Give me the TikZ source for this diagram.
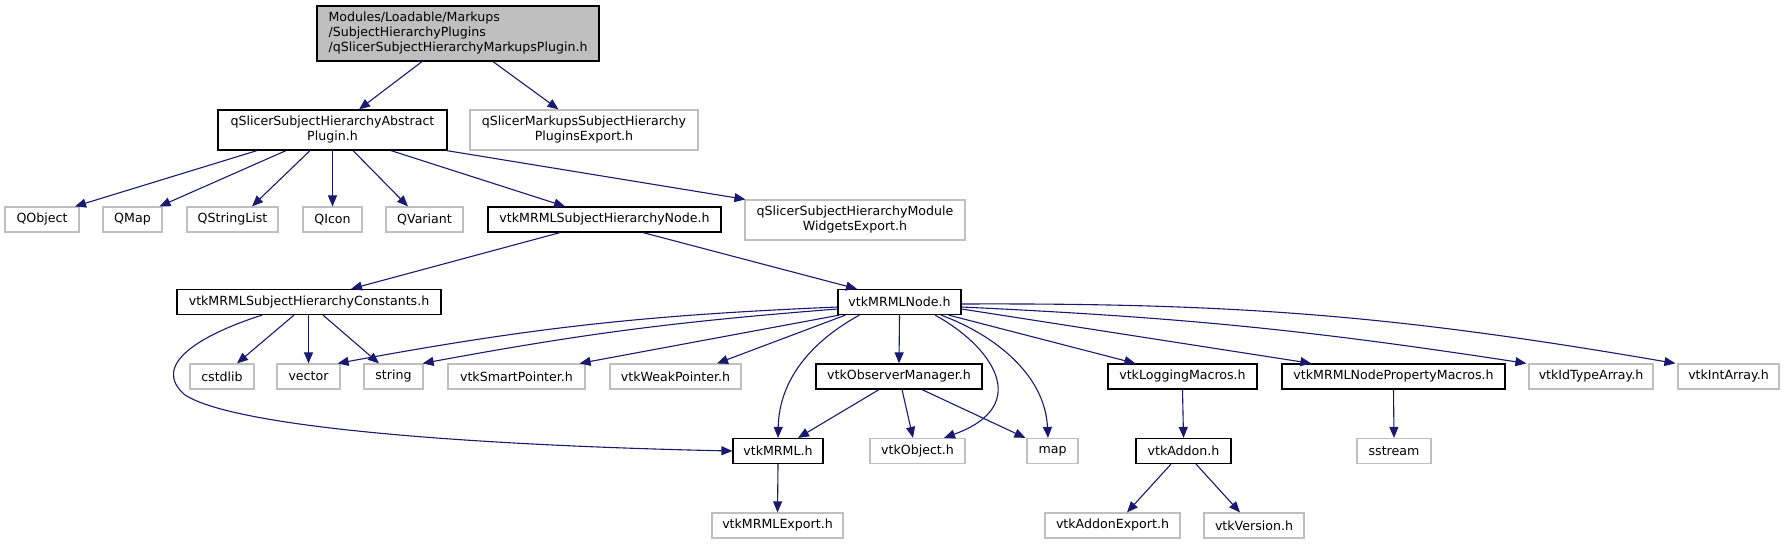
\documentclass[tikz,border=0pt]{standalone}
\usepackage{fontspec}
\setmainfont{DejaVu Sans}
\usetikzlibrary{arrows.meta}
\definecolor{edgec}{HTML}{191970}
\definecolor{greyb}{HTML}{BFBFBF}
\tikzset{
 box/.style={draw=black, line width=1.2pt, rectangle, inner sep=0pt, minimum height=25pt, font=\fontsize{12.6}{15}\selectfont, align=center, fill=white},
 gbox/.style={box, draw=greyb},
 edge/.style={draw=edgec, line width=1.1pt, -{Triangle[length=11pt,width=9pt]}},
}
\begin{document}
\begin{tikzpicture}[x=1pt,y=-1pt]
\useasboundingbox (0,0) rectangle (1785,544);
% row 1
\node[box, fill=greyb, minimum width=282, minimum height=55, align=left] (top) at (458,33.5) {Modules/Loadable/Markups\\/SubjectHierarchyPlugins\\/qSlicerSubjectHierarchyMarkupsPlugin.h};
% row 2
\node[box, minimum width=229, minimum height=40] (abs) at (332.5,130) {qSlicerSubjectHierarchyAbstract\\Plugin.h};
\node[gbox, minimum width=228, minimum height=40] (mexp) at (584,130) {qSlicerMarkupsSubjectHierarchy\\PluginsExport.h};
% row 3
\node[gbox, minimum width=74] (qobj) at (42,219.5) {QObject};
\node[gbox, minimum width=59] (qmap) at (132.5,219.5) {QMap};
\node[gbox, minimum width=91] (qsl) at (232.5,219.5) {QStringList};
\node[gbox, minimum width=59] (qicon) at (332.5,219.5) {QIcon};
\node[gbox, minimum width=77] (qvar) at (424.5,219.5) {QVariant};
\node[box, minimum width=233] (shn) at (604.5,219.5) {vtkMRMLSubjectHierarchyNode.h};
\node[gbox, minimum width=220, minimum height=40] (wexp) at (855,220) {qSlicerSubjectHierarchyModule\\WidgetsExport.h};
% row 4
\node[box, minimum width=264] (const) at (309,302) {vtkMRMLSubjectHierarchyConstants.h};
\node[box, minimum width=123] (mnode) at (899.5,302) {vtkMRMLNode.h};
% row 5
\node[gbox, minimum width=64] (cstd) at (222,376.5) {cstdlib};
\node[gbox, minimum width=63] (vec) at (308.5,376.5) {vector};
\node[gbox, minimum width=59] (str) at (393.5,376.5) {string};
\node[gbox, minimum width=137] (smart) at (516.5,376.5) {vtkSmartPointer.h};
\node[gbox, minimum width=131] (weak) at (675.5,376.5) {vtkWeakPointer.h};
\node[box, minimum width=166] (obsm) at (899,376.5) {vtkObserverManager.h};
\node[box, minimum width=149] (logm) at (1182.5,376.5) {vtkLoggingMacros.h};
\node[box, minimum width=223] (propm) at (1393.5,376.5) {vtkMRMLNodePropertyMacros.h};
\node[gbox, minimum width=124] (idta) at (1591,376.5) {vtkIdTypeArray.h};
\node[gbox, minimum width=101] (inta) at (1728.5,376.5) {vtkIntArray.h};
% row 6
\node[box, minimum width=90] (mrml) at (778,451) {vtkMRML.h};
\node[gbox, minimum width=95] (vobj) at (917.5,451) {vtkObject.h};
\node[gbox, minimum width=51] (map) at (1052.5,451) {map};
\node[box, minimum width=95] (addon) at (1183.5,451) {vtkAddon.h};
\node[gbox, minimum width=74] (sstr) at (1394,451) {sstream};
% row 7
\node[gbox, minimum width=131] (mexport) at (777.5,525.5) {vtkMRMLExport.h};
\node[gbox, minimum width=135] (aexp) at (1112.5,525.5) {vtkAddonExport.h};
\node[gbox, minimum width=100] (ver) at (1254,525.5) {vtkVersion.h};

% edges from top
\draw[edge] ([xshift=-36]top.south) -- ([xshift=26.5]abs.north);
\draw[edge] ([xshift=35]top.south) -- ([xshift=-25.5]mexp.north);
% edges from abstract
\draw[edge] ([xshift=-75.5]abs.south) -- ([xshift=33]qobj.north);
\draw[edge] ([xshift=-46.5]abs.south) -- ([xshift=27]qmap.north);
\draw[edge] ([xshift=-22.5]abs.south) -- ([xshift=19.5]qsl.north);
\draw[edge] (abs.south) -- (qicon.north);
\draw[edge] ([xshift=20.5]abs.south) -- ([xshift=-16.5]qvar.north);
\draw[edge] ([xshift=58.5]abs.south) -- ([xshift=-39.5]shn.north);
\draw[edge] ([xshift=-1]abs.south east) -- ([xshift=1]wexp.north west);
% edges from SH node
\draw[edge] ([xshift=-44.5]shn.south) -- ([xshift=42]const.north);
\draw[edge] ([xshift=38.5]shn.south) -- ([xshift=-42.5]mnode.north);
% edges from constants
\draw[edge] ([xshift=-15]const.south) -- ([xshift=15]cstd.north);
\draw[edge] ([xshift=-0.5]const.south) -- (vec.north);
\draw[edge] ([xshift=14]const.south) -- ([xshift=-14.5]str.north);
\draw[edge] ([xshift=-47]const.south) .. controls (200,335) and (150,365) .. (185,395) .. controls (240,430) and (500,446) .. (mrml.west);
% edges from vtkMRMLNode
\draw[edge] ([yshift=-5]mnode.west) to[bend right=4] ([xshift=-3]vec.north east);
\draw[edge] ([yshift=-7]mnode.west) to[bend right=3] ([xshift=-1]str.north east);
\draw[edge] ([xshift=2]mnode.south west) -- ([xshift=-6]smart.north east);
\draw[edge] ([xshift=8]mnode.south west) -- ([xshift=41.5]weak.north);
\draw[edge] ([xshift=22]mnode.south west) .. controls (805,345) and (779,385) .. (mrml.north);
\draw[edge] (mnode.south) -- (obsm.north);
\draw[edge] ([xshift=35.5]mnode.south) .. controls (990,345) and (1035,405) .. ([xshift=26.5]vobj.north);
\draw[edge] ([xshift=41.5]mnode.south) .. controls (995,335) and (1045,375) .. ([xshift=-4.5]map.north);
\draw[edge] ([xshift=-13]mnode.south east) -- ([xshift=28]logm.north west);
\draw[edge] ([yshift=-7]mnode.east) -- ([xshift=30]propm.north west);
\draw[edge] ([yshift=-5]mnode.east) to[bend left=3] ([xshift=-2]idta.north west);
\draw[edge] ([yshift=-2]mnode.east) to[bend left=5] ([xshift=-2]inta.north west);
% edges from observer manager
\draw[edge] ([xshift=-20]obsm.south) -- ([xshift=20]mrml.north);
\draw[edge] ([xshift=3]obsm.south) -- ([xshift=-4.5]vobj.north);
\draw[edge] ([xshift=23]obsm.south) -- ([xshift=-1]map.north west);
% lower edges
\draw[edge] (mrml.south) -- (mexport.north);
\draw[edge] (logm.south) -- (addon.north);
\draw[edge] ([xshift=-12.5]addon.south) -- ([xshift=14.5]aexp.north);
\draw[edge] ([xshift=12.5]addon.south) -- ([xshift=-14]ver.north);
\draw[edge] (propm.south) -- (sstr.north);
\end{tikzpicture}
\end{document}
